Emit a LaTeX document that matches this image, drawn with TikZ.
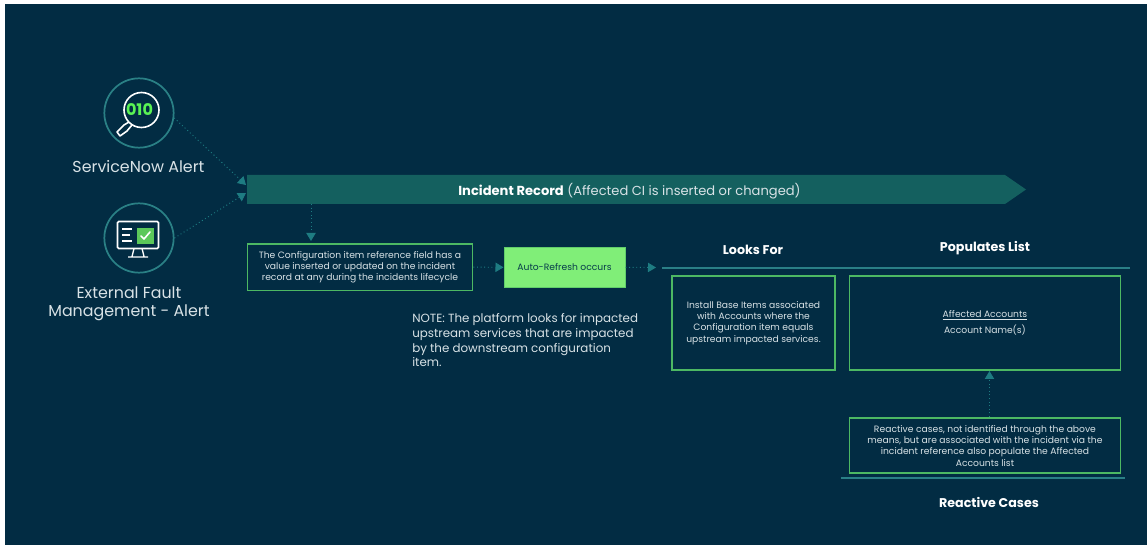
\documentclass[tikz,border=0pt]{standalone}
\usepackage{fontspec}
\setmainfont{Poppins}
\usetikzlibrary{arrows.meta}
\definecolor{bgc}{HTML}{022C43}
\definecolor{teal1}{HTML}{14605F}
\definecolor{teal2}{HTML}{1E7C82}
\definecolor{lime}{HTML}{80EE78}
\definecolor{gbox}{HTML}{4DB863}
\definecolor{txt}{HTML}{D8E2E6}
\definecolor{ringc}{HTML}{2A8085}
\definecolor{hl}{HTML}{2A7F86}
\definecolor{iconfill}{HTML}{5CC85A}
\tikzset{
  x=0.75pt,y=-0.75pt,
  conn/.style={draw=teal2,line width=0.7pt,dotted,-{Triangle[length=6pt,width=7pt,fill=teal2]}},
  gboxst/.style={draw=gbox,line width=1.2pt,align=center,inner sep=0pt,text=txt,anchor=north west},
  small/.style={font=\fontsize{6.9pt}{8.5pt}\selectfont},
  ring/.style={circle,draw=ringc,line width=1.3pt,minimum size=52pt,inner sep=0pt},
  lab/.style={text=txt,align=center,font=\fontsize{11.9pt}{13.6pt}\selectfont},
  head/.style={text=white,font=\fontsize{9.5pt}{11pt}\bfseries\selectfont},
  rule/.style={draw=hl,line width=1pt},
}
\begin{document}
\begin{tikzpicture}
\useasboundingbox (0,0) rectangle (1147,545);
\fill[white] (0,0) rectangle (1147,545);
\fill[bgc] (5,4) rectangle (1147,545);
% icons
\node[ring] (c1) at (139,113) {};
\node[ring] (c2) at (139,238) {};
\draw[white,line width=1.2pt] (141.5,110) circle (17.5);
\draw[white,line width=1.2pt,line join=round] (129,122) -- (124,125) -- (117,132) -- (120,136) -- (127,131) -- (132,125);
\node[inner sep=0pt,text=lime!70!green,font=\fontsize{12pt}{12pt}\bfseries\selectfont] (bin) at (139.5,110) {010};
\draw[white,line width=1.2pt,rounded corners=1pt] (117.5,221.5) rectangle (158.5,248.5);
\fill[iconfill] (137,228) rectangle (154,244);
\draw[white,line width=1.2pt,line cap=round,line join=round] (141,236) -- (144,239) -- (150,232);
\draw[white,line width=1pt] (122,229) -- (132,229) (122,235) -- (130,235) (122,241) -- (132,241);
\draw[white,line width=1pt,line join=round] (134,248.5) -- (132,256.5) (142,248.5) -- (144,256.5) (128,257) -- (148,257);
\node[lab] (l1) at (138.5,167) {ServiceNow Alert};
\node[lab] (l2) at (129,304) {External Fault\\Management - Alert};
% banner
\fill[teal1] (247,175) -- (1005,175) -- (1026,189.5) -- (1005,204) -- (247,204) -- cycle;
\node[text=txt,inner sep=0pt,font=\fontsize{9.8pt}{12pt}\selectfont] (banner) at (629.5,191) {\textcolor{white}{\bfseries Incident Record} (Affected CI is inserted or changed)};
\coordinate (inA) at (246,185);
\coordinate (inB) at (246,193);
\coordinate (bdown) at (311,204);
\coordinate (bdownE) at (311,241);
% boxes
\node[gboxst,small,minimum width=169pt,minimum height=35pt] (b1) at (246.5,243) {The Configuration item reference field has a\\value inserted or updated on the incident\\record at any during the incidents lifecycle};
\node[draw=gbox!60!lime,fill=lime,line width=.5pt,anchor=north west,inner sep=0pt,minimum width=91pt,minimum height=30pt,text=bgc!70!teal1,small] (b2) at (503.5,247) {Auto-Refresh occurs};
\node[text=txt,align=left,anchor=north west,inner sep=0pt,font=\fontsize{8.9pt}{11pt}\selectfont] (note) at (412,313.5) {NOTE: The platform looks for impacted\\upstream services that are impacted\\by the downstream configuration\\item.};
\coordinate (ruleL) at (662,268);
\coordinate (ruleR) at (1130,268);
\coordinate (rr) at (656,267.5);
\draw[rule] (ruleL) -- (ruleR);
\node[head] (h1) at (753,250) {Looks For};
\node[head] (h2) at (985,248.5) {Populates List};
\node[gboxst,small,minimum width=122.5pt,minimum height=70.5pt] (b3) at (671,275) {Install Base Items associated\\with Accounts where the\\Configuration item equals\\upstream impacted services.};
\node[gboxst,small,minimum width=203.5pt,minimum height=70.5pt] (b4) at (848.5,275) {\underline{Affected Accounts}\\[3pt]Account Name(s)};
\node[gboxst,small,minimum width=203.5pt,minimum height=41pt] (b5) at (848.5,417.5) {Reactive cases, not identified through the above\\means, but are associated with the incident via the\\incident reference also populate the Affected\\Accounts list};
\coordinate (r2L) at (841,478);
\coordinate (r2R) at (1125,478);
\draw[rule] (r2L) -- (r2R);
\node[head] (h3) at (989,502) {Reactive Cases};
% connectors
\coordinate (upS) at (989.5,417);
\coordinate (upE) at (989.5,371);
\draw[conn] (c1.-8) -- (inA);
\draw[conn] (c2.east) -- (inB);
\draw[conn] (bdown) -- (bdownE);
\draw[conn] (b1.east) -- (b2.west);
\draw[conn] (b2.east) -- (rr);
\draw[conn] (upS) -- (upE);
\end{tikzpicture}
\end{document}
